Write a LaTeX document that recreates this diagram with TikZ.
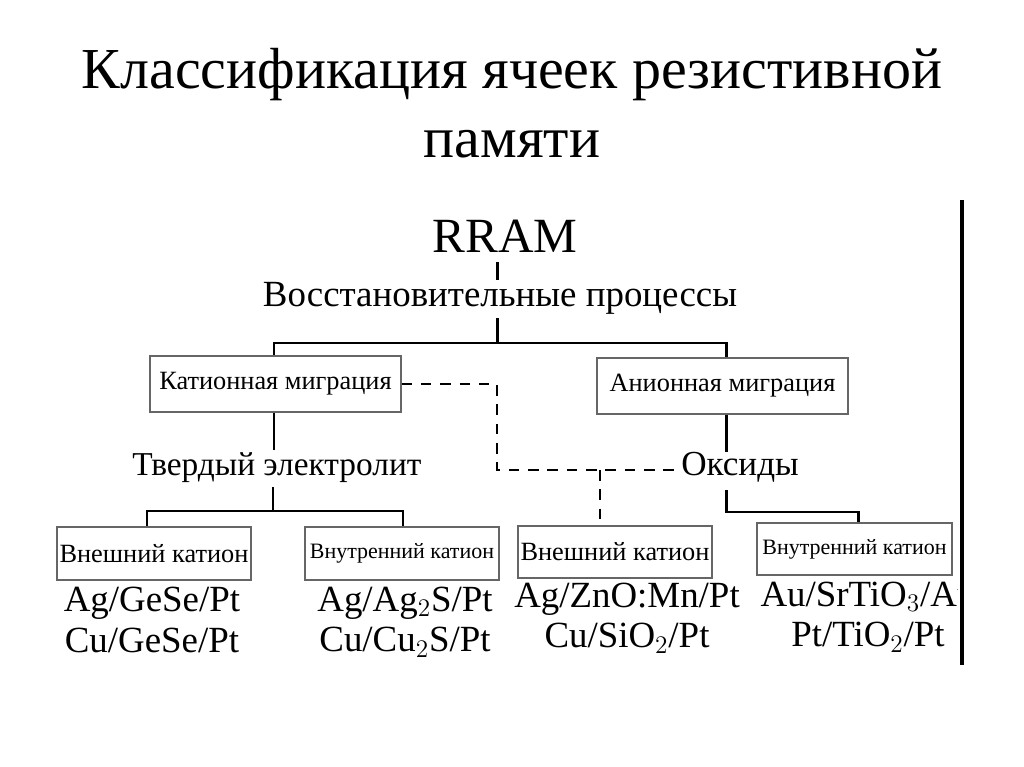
\documentclass[tikz,border=0pt]{standalone}
\usepackage{fontspec}
\setmainfont{Liberation Serif}
\tikzset{
  kbox/.style={draw=black!60,line width=0.6pt,inner sep=0pt},
  link/.style={line width=1.7pt},
  dlink/.style={line width=1.3pt,dash pattern=on 6pt off 5pt},
  formula/.style={font=\fontsize{21}{23}\selectfont,align=center}
}
\begin{document}
\begin{tikzpicture}[x=0.02cm,y=-0.02cm]
\useasboundingbox (0,0) rectangle (1024,767);
\node (title) at (512,103) [align=center,font=\fontsize{33}{35}\selectfont] {Классификация ячеек резистивной\\[4pt]памяти};
\node (rram) at (505,236) [font=\fontsize{28}{30}\selectfont] {RRAM};
\node (proc) at (500,298) [font=\fontsize{21}{23}\selectfont] {Восстановительные процессы};
\node (kat) at (275.5,384) [kbox,minimum width=251*0.02cm,minimum height=56*0.02cm,font=\fontsize{15}{17}\selectfont] {Катионная миграция};
\node (an) at (722.5,386) [kbox,minimum width=251*0.02cm,minimum height=56*0.02cm,font=\fontsize{15}{17}\selectfont] {Анионная миграция};
\node (tel) at (277,468) [font=\fontsize{19}{21}\selectfont] {Твердый электролит};
\node (oks) at (740,467) [font=\fontsize{20}{22}\selectfont] {Оксиды};
\node (ext1) at (154,553.5) [kbox,minimum width=194*0.02cm,minimum height=53*0.02cm,font=\fontsize{15}{17}\selectfont] {Внешний катион};
\node (int1) at (402,553.5) [kbox,minimum width=194*0.02cm,minimum height=53*0.02cm,font=\fontsize{12.5}{14}\selectfont] {Внутренний катион};
\node (ext2) at (615,552) [kbox,minimum width=194*0.02cm,minimum height=52*0.02cm,font=\fontsize{15}{17}\selectfont] {Внешний катион};
\node (int2) at (854.5,549) [kbox,minimum width=195*0.02cm,minimum height=52*0.02cm,font=\fontsize{12.5}{14}\selectfont] {Внутренний катион};
\node (f1) at (152,620) [formula] {Ag/GeSe/Pt\\Cu/GeSe/Pt};
\node (f2) at (405,622) [formula] {Ag/Ag$_2$S/Pt\\Cu/Cu$_2$S/Pt};
\node (f3) at (627,618) [formula] {Ag/ZnO:Mn/Pt\\Cu/SiO$_2$/Pt};
\node (f4) at (868,617) [formula] {Au/SrTiO$_3$/Au\\Pt/TiO$_2$/Pt};
% solid links
\draw[link] (497,262) -- (497,280);
\draw[link] (497,318) -- (497,343);
\draw[link] (kat.north -| 274,0) |- (497,343) -| (an.north -| 726,0);
\draw[link] (kat.south -| 274,0) -- (274,450);
\draw[link] (273,487) -- (273,511);
\draw[link] (ext1.north -| 147,0) |- (273,511) -| (int1.north -| 403,0);
\draw[link] (an.south -| 726,0) -- (726,452);
\draw[link] (726,490) |- (858,512) -- (int2.north -| 858,0);
% dashed links
\draw[dlink] (kat.east) -| (497,470) -- (oks.west |- 0,470);
\draw[dlink] (600,470) -- (ext2.north -| 600,0);
\fill[white] (958,580) rectangle (990,640);
\draw[line width=2.4pt] (962,200) -- (962,665);
\end{tikzpicture}
\end{document}
